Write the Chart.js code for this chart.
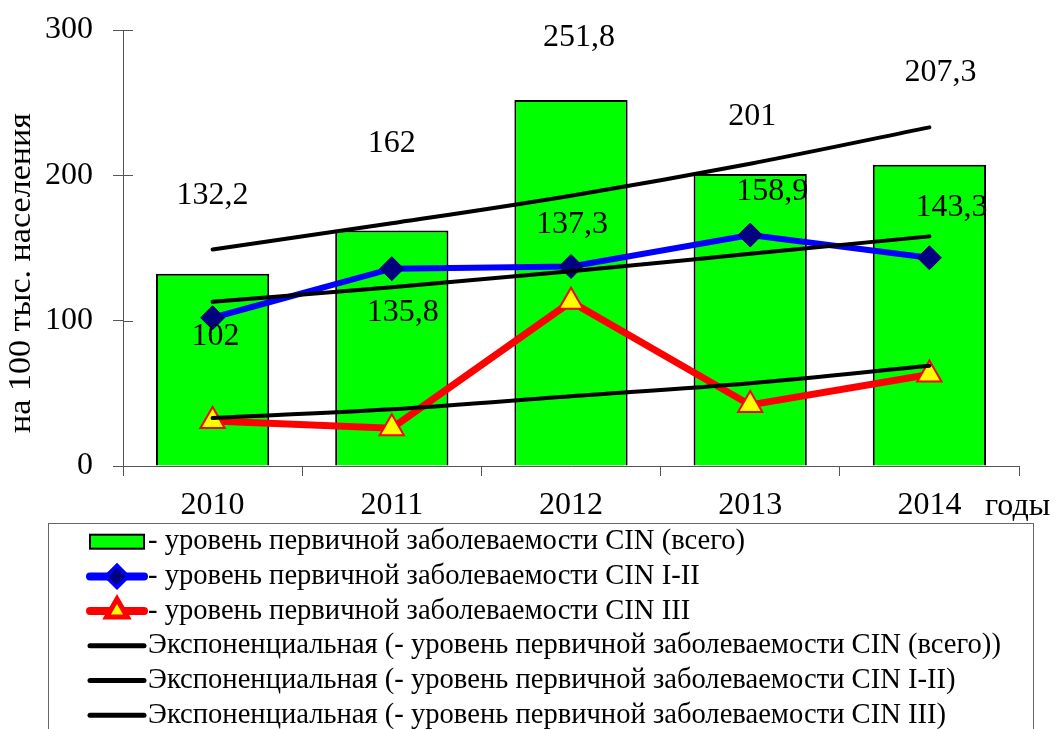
<!DOCTYPE html>
<html>
<head>
<meta charset="utf-8">
<script src="https://cdn.jsdelivr.net/npm/chart.js@4/dist/chart.umd.min.js"></script>
<style>
  body { margin: 0; background: #fff; }
  #wrap { width: 1055px; height: 729px; }
</style>
</head>
<body>
<div id="wrap"><canvas id="cinChart" width="1055" height="729"></canvas></div>
<script>
const years = ['2010', '2011', '2012', '2013', '2014'];
const cinTotal = [132.2, 162, 251.8, 201, 207.3];
const cin12 = [102, 135.8, 137.3, 158.9, 143.3];
const cin3 = [31, 26, 113, 42, 63];
// exponential trend lines
const trendTotal = [149, 167, 186, 208, 233];
const trend12 = [113, 123, 134, 146, 158];
const trend3 = [33, 39, 48, 57, 69];

const seriesNames = [
  '- уровень первичной заболеваемости CIN (всего)',
  '- уровень первичной заболеваемости CIN I-II',
  '- уровень первичной заболеваемости CIN III',
  'Экспоненциальная (- уровень первичной заболеваемости CIN (всего))',
  'Экспоненциальная (- уровень первичной заболеваемости CIN I-II)',
  'Экспоненциальная (- уровень первичной заболеваемости CIN III)'
];
const yTitle = 'на 100 тыс. населения';
const xTitle = 'годы';

// where the value labels sit relative to their mark (px)
const totalLabelDx = [0, 0, 8, 2, 11];
const totalLabelDy = [-78, -87, -62, -57, -92];
const cin12LabelDx = [3, 11, 1, 22, 22];
const cin12LabelDy = [19, 44, -42, -43, -50];

const FONT = "'Liberation Serif', 'Times New Roman', serif";

function fmt(v) {
  return String(v).replace('.', ',');
}

// labels, axis titles, legend box
const extras = {
  id: 'extras',
  afterDraw(chart) {
    const ctx = chart.ctx;
    const area = chart.chartArea;
    const yScale = chart.scales.y;
    ctx.save();

    // inner half of the y ticks
    ctx.strokeStyle = '#555';
    ctx.lineWidth = 1;
    yScale.ticks.forEach(t => {
      const y = Math.round(yScale.getPixelForValue(t.value)) + 0.5;
      ctx.beginPath();
      ctx.moveTo(area.left, y);
      ctx.lineTo(area.left + 10, y);
      ctx.stroke();
    });

    // value labels
    ctx.fillStyle = '#000';
    ctx.font = '32px ' + FONT;
    ctx.textAlign = 'center';
    ctx.textBaseline = 'middle';
    chart.getDatasetMeta(0).data.forEach((el, i) => {
      ctx.fillText(fmt(cinTotal[i]), el.x + totalLabelDx[i], el.y + totalLabelDy[i]);
    });
    chart.getDatasetMeta(1).data.forEach((el, i) => {
      ctx.fillText(fmt(cin12[i]), el.x + cin12LabelDx[i], el.y + cin12LabelDy[i]);
    });

    // y axis title (stretched a little along its length, as in the original)
    ctx.save();
    ctx.translate(22, 273);
    ctx.rotate(-Math.PI / 2);
    ctx.scale(1.1, 1);
    ctx.font = '31px ' + FONT;
    ctx.fillText(yTitle, 0, 0);
    ctx.restore();

    // x axis title after the last year
    ctx.textAlign = 'left';
    ctx.textBaseline = 'alphabetic';
    ctx.font = '32px ' + FONT;
    ctx.fillText(xTitle, 985, 515);

    // legend
    ctx.strokeStyle = '#666';
    ctx.lineWidth = 1;
    ctx.strokeRect(48.5, 523.5, 985, 300);
    ctx.font = '28.6px ' + FONT;
    ctx.textBaseline = 'middle';
    const sets = chart.data.datasets;
    sets.forEach((ds, i) => {
      const y = 541.7 + i * 34.7;
      const x0 = 90, x1 = 144;
      if (i === 0) {
        ctx.fillStyle = ds.backgroundColor;
        ctx.fillRect(x0, y - 7, x1 - x0, 14);
        ctx.strokeStyle = '#000';
        ctx.lineWidth = 2;
        ctx.strokeRect(x0, y - 7, x1 - x0, 14);
      } else {
        ctx.strokeStyle = ds.borderColor;
        ctx.lineWidth = i < 3 ? 8 : 5;
        ctx.lineCap = 'round';
        ctx.beginPath();
        ctx.moveTo(x0, y);
        ctx.lineTo(x1, y);
        ctx.stroke();
        if (i < 3) {
          Chart.helpers.drawPoint(ctx, {
            pointStyle: ds.pointStyle,
            radius: i === 1 ? 8 : 9,
            borderWidth: ds.pointBorderWidth,
            rotation: 0
          }, (x0 + x1) / 2, y);
          ctx.fillStyle = ds.pointBackgroundColor;
          ctx.strokeStyle = ds.pointBorderColor;
          ctx.lineWidth = ds.pointBorderWidth;
          ctx.fill();
          ctx.stroke();
        }
      }
      ctx.fillStyle = '#000';
      ctx.fillText(ds.label, 148, y);
    });

    ctx.restore();
  }
};

const trendLine = (label, data) => ({
  type: 'line',
  label: label,
  data: data,
  borderColor: '#000',
  borderWidth: 4,
  borderCapStyle: 'round',
  pointRadius: 0,
  cubicInterpolationMode: 'monotone',
  order: 1
});

new Chart(document.getElementById('cinChart'), {
  type: 'bar',
  data: {
    labels: years,
    datasets: [
      {
        label: seriesNames[0],
        data: cinTotal,
        backgroundColor: '#00ff00',
        borderColor: '#000',
        borderWidth: 2,
        categoryPercentage: 1,
        barPercentage: 0.632,
        order: 3
      },
      {
        type: 'line',
        label: seriesNames[1],
        data: cin12,
        borderColor: '#0000ff',
        borderWidth: 6,
        pointStyle: 'rectRot',
        pointRadius: 12,
        pointBackgroundColor: '#000080',
        pointBorderColor: '#000080',
        pointBorderWidth: 1,
        order: 2
      },
      {
        type: 'line',
        label: seriesNames[2],
        data: cin3,
        borderColor: '#ff0000',
        borderWidth: 7,
        pointStyle: 'triangle',
        pointRadius: 14,
        pointBackgroundColor: '#ffff00',
        pointBorderColor: '#ff0000',
        pointBorderWidth: 2,
        order: 2
      },
      trendLine(seriesNames[3], trendTotal),
      trendLine(seriesNames[4], trend12),
      trendLine(seriesNames[5], trend3)
    ]
  },
  options: {
    responsive: false,
    animation: false,
    layout: { padding: { top: 30, right: 36, left: 0, bottom: 0 } },
    plugins: {
      legend: { display: false },
      tooltip: { enabled: false }
    },
    scales: {
      x: {
        offset: true,
        grid: { display: true, drawOnChartArea: false, tickLength: 10, color: '#555', offset: true },
        border: { color: '#555' },
        ticks: { color: '#000', padding: 10, font: { family: FONT, size: 32 } },
        afterFit: s => { s.height = 263; s.paddingLeft = 0; s.paddingRight = 0; }
      },
      y: {
        min: 0,
        max: 300,
        grid: { drawOnChartArea: false, tickLength: 10, color: '#555' },
        border: { color: '#555' },
        ticks: { stepSize: 100, color: '#000', padding: 20, font: { family: FONT, size: 32 } },
        afterFit: s => { s.width = 123; s.paddingTop = 0; s.paddingBottom = 0; }
      }
    }
  },
  plugins: [extras]
});
</script>
</body>
</html>
